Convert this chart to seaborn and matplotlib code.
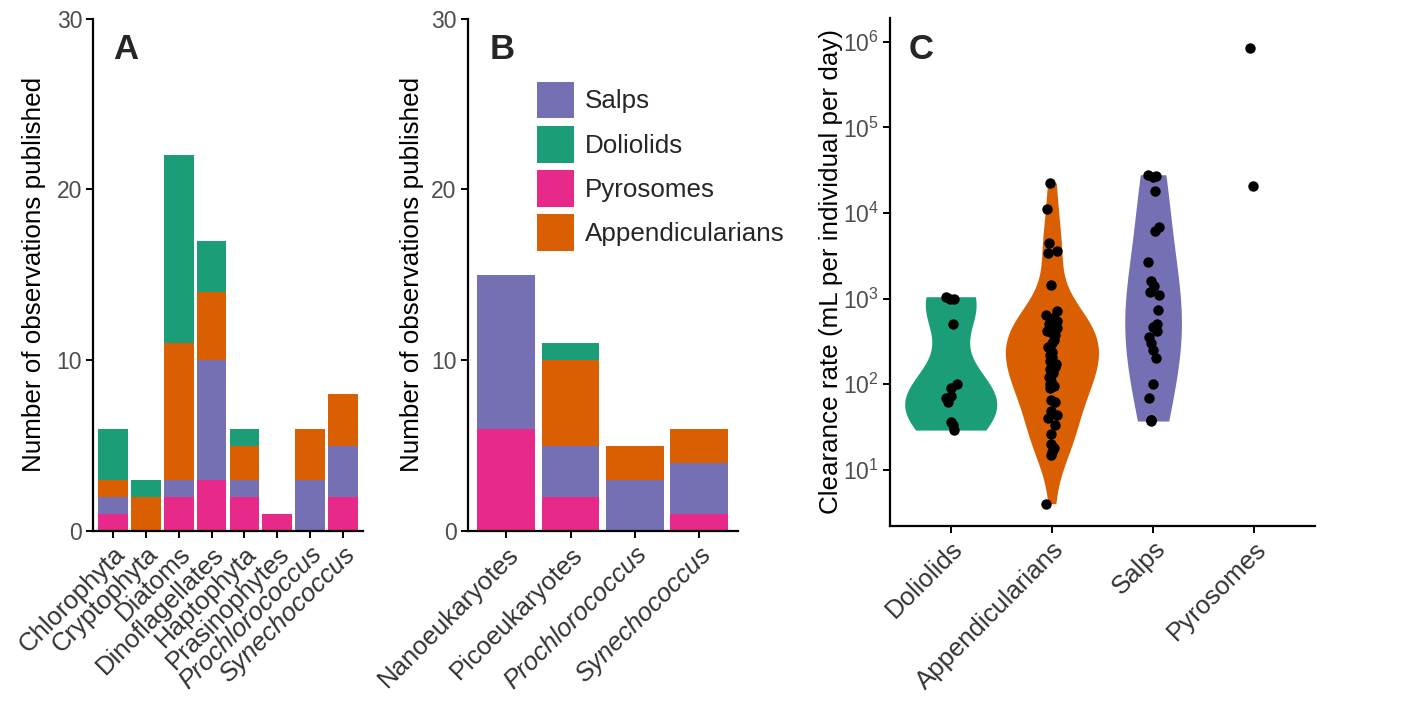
import numpy as np
import pandas as pd
import matplotlib
matplotlib.use("Agg")
import matplotlib.pyplot as plt
from matplotlib.patches import Patch
from matplotlib.ticker import NullLocator, LogLocator
import seaborn as sns

# ---- Panel A: observations by prey group (stacked by tunicate group) ----
prey_a = ["Chlorophyta", "Cryptophyta", "Diatoms", "Dinoflagellates",
          "Haptophyta", "Prasinophytes", "Prochlorococcus", "Synechococcus"]
a_pyrosomes = [1, 0, 2, 3, 2, 1, 0, 2]
a_salps = [1, 0, 1, 7, 1, 0, 3, 3]
a_appendicularians = [1, 2, 8, 4, 2, 0, 3, 3]
a_doliolids = [3, 1, 11, 3, 1, 0, 0, 0]

# ---- Panel B: observations by size class ----
prey_b = ["Nanoeukaryotes", "Picoeukaryotes", "Prochlorococcus", "Synechococcus"]
b_pyrosomes = [6, 2, 0, 1]
b_salps = [9, 3, 3, 3]
b_appendicularians = [0, 5, 2, 2]
b_doliolids = [0, 1, 0, 0]

italic_labels = ["Prochlorococcus", "Synechococcus"]

# ---- Panel C: clearance rates (mL per individual per day) ----
groups_c = ["Doliolids", "Appendicularians", "Salps", "Pyrosomes"]
doliolid_rates = [1050, 1000, 980, 510, 100, 90, 72, 68, 62, 36, 33, 29]
appendicularian_rates = [22500, 11000, 4500, 3600, 3450, 1450, 720, 650, 600,
                         540, 500, 480, 450, 420, 400, 370, 330, 300, 275, 240,
                         220, 205, 185, 170, 160, 150, 135, 122, 110, 100, 96,
                         90, 65, 62, 48, 44, 40, 33, 26, 20, 18, 16, 15, 4.0]
salp_rates = [28000, 27000, 26000, 18000, 6800, 6200, 2700, 1600, 1400, 1200,
              1100, 740, 500, 460, 420, 360, 300, 250, 200, 100, 68, 38, 38, 37]
pyrosome_rates = [840000, 20500]

legend_order = ["Salps", "Doliolids", "Pyrosomes", "Appendicularians"]
palette = {"Salps": "#7570B3", "Doliolids": "#1B9E77",
           "Pyrosomes": "#E7298A", "Appendicularians": "#D95F02"}

# violin body width and smoothing for each group
violin_style = {"Doliolids": (0.91, 1.0),
                "Appendicularians": (0.92, 1.15),
                "Salps": (0.56, 1.6)}

sns.set_theme(style="ticks")
plt.rcParams["font.family"] = ["Liberation Sans", "DejaVu Sans"]
plt.rcParams["mathtext.fontset"] = "custom"
plt.rcParams["mathtext.rm"] = "Liberation Sans"
plt.rcParams["mathtext.it"] = "Liberation Sans:italic"
plt.rcParams["mathtext.bf"] = "Liberation Sans:bold"

TICK_COLOR = "#4D4D4D"
XTICK_COLOR = "#333333"
TICK_SIZE = 16.5
XTICK_SIZE = 18.5
TITLE_SIZE = 18.7
LEGEND_SIZE = 18.7
LETTER_SIZE = 25

W, H = 1415, 706
fig = plt.figure(figsize=(W / 100, H / 100), dpi=100)


def px_axes(left, top, right, bottom):
    return fig.add_axes([left / W, 1 - bottom / H, (right - left) / W, (bottom - top) / H])


def style_axes(ax):
    sns.despine(ax=ax)
    for side in ("left", "bottom"):
        ax.spines[side].set_linewidth(1.6)
        ax.spines[side].set_color("black")
    ax.tick_params(axis="both", length=5, width=1.4, color="black",
                   labelcolor=TICK_COLOR, labelsize=TICK_SIZE, pad=3)


def rotated_labels(ax, labels):
    ax.set_xticks(range(len(labels)))
    ax.set_xticklabels(labels, rotation=45, ha="right", va="top",
                       rotation_mode="anchor", fontsize=XTICK_SIZE,
                       color=XTICK_COLOR)
    for lab in ax.get_xticklabels():
        if lab.get_text() in italic_labels:
            lab.set_fontstyle("italic")


def stacked_bars(ax, cats, layers, labelpad):
    """Layers are given bottom to top; draw cumulative totals from the top down."""
    tops = np.cumsum([vals for _, vals in layers], axis=0)
    for (name, _), top in reversed(list(zip(layers, tops))):
        sns.barplot(x=cats, y=top, order=cats, color=palette[name],
                    saturation=1, width=0.9, linewidth=0, errorbar=None, ax=ax)
    ax.set_xlim(-0.6, len(cats) - 0.4)
    ax.set_ylim(0, 30)
    ax.set_yticks([0, 10, 20, 30])
    ax.set_xlabel("")
    ax.set_ylabel("Number of observations published", fontsize=TITLE_SIZE,
                  color="black", labelpad=labelpad)
    style_axes(ax)
    rotated_labels(ax, cats)


# Panel A
ax_a = px_axes(93.3, 18.6, 362.7, 531)
stacked_bars(ax_a, prey_a, [("Pyrosomes", a_pyrosomes), ("Salps", a_salps),
                            ("Appendicularians", a_appendicularians),
                            ("Doliolids", a_doliolids)], labelpad=8)
ax_a.text(0.073, 0.921, "A", transform=ax_a.transAxes, fontsize=LETTER_SIZE,
          fontweight="bold", va="baseline", ha="left")

# Panel B
ax_b = px_axes(467.7, 18.6, 737.7, 531)
stacked_bars(ax_b, prey_b, [("Pyrosomes", b_pyrosomes), ("Salps", b_salps),
                            ("Appendicularians", b_appendicularians),
                            ("Doliolids", b_doliolids)], labelpad=5)
ax_b.text(0.083, 0.921, "B", transform=ax_b.transAxes, fontsize=LETTER_SIZE,
          fontweight="bold", va="baseline", ha="left")
handles = [Patch(facecolor=palette[g], edgecolor="none", label=g) for g in legend_order]
ax_b.legend(handles=handles, loc="upper left", bbox_to_anchor=(0.256, 0.877),
            frameon=False, fontsize=LEGEND_SIZE, handlelength=1.45,
            handleheight=1.8, labelspacing=0.29, handletextpad=0.4,
            borderpad=0, borderaxespad=0)

# Panel C
rates = pd.DataFrame({
    "group": (["Doliolids"] * len(doliolid_rates)
              + ["Appendicularians"] * len(appendicularian_rates)
              + ["Salps"] * len(salp_rates)
              + ["Pyrosomes"] * len(pyrosome_rates)),
    "rate": doliolid_rates + appendicularian_rates + salp_rates + pyrosome_rates,
})


def nrd0(kde):
    # Silverman's rule of thumb (R's bw.nrd0), as a factor of the sample sd
    x = kde.dataset[0]
    sd = np.std(x, ddof=1)
    q75, q25 = np.percentile(x, [75, 25])
    lo = min(sd, (q75 - q25) / 1.34)
    return 0.9 * lo * len(x) ** -0.2 / sd


ax_c = px_axes(890, 17.9, 1315, 525.7)
for group, (body_width, smooth) in violin_style.items():
    sns.violinplot(data=rates[rates["group"] == group], x="group", y="rate",
                   order=groups_c, color=palette[group], saturation=1,
                   log_scale=True, cut=0, inner=None, density_norm="width",
                   width=body_width, bw_method=nrd0, bw_adjust=smooth,
                   linewidth=0, ax=ax_c)
np.random.seed(7)
sns.stripplot(data=rates, x="group", y="rate", order=groups_c, color="black",
              size=7.5, jitter=0.06, linewidth=0, ax=ax_c, zorder=3)
ax_c.set_yscale("log")
ax_c.set_ylim(10 ** 0.345, 10 ** 6.28)
ax_c.set_xlim(-0.6, len(groups_c) - 0.4)
ax_c.yaxis.set_major_locator(LogLocator(base=10, numticks=12))
ax_c.yaxis.set_minor_locator(NullLocator())
ax_c.set_xlabel("")
ax_c.set_ylabel("Clearance rate (mL per individual per day)", fontsize=TITLE_SIZE,
                color="black", labelpad=0)
style_axes(ax_c)
rotated_labels(ax_c, groups_c)
ax_c.text(0.045, 0.919, "C", transform=ax_c.transAxes, fontsize=LETTER_SIZE,
          fontweight="bold", va="baseline", ha="left")

fig.savefig("out.png", dpi=100, facecolor="white")
